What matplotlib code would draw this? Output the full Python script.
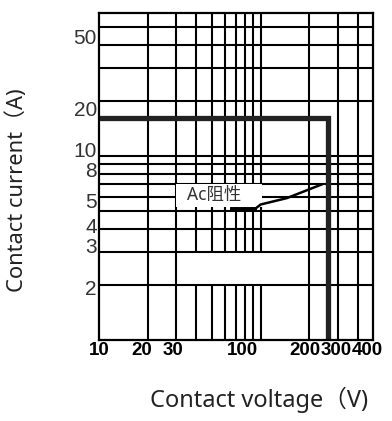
import numpy as np
import matplotlib.pyplot as plt
from matplotlib.transforms import ScaledTranslation

# valores
volt_ticks = [10, 20, 30, 100, 200, 300, 400]
volt_labels = ['10', '20', '30', '100', '200', '300', '400']
amp_ticks = [2, 3, 4, 5, 8, 10, 20, 50]
amp_labels = ['2', '3', '4', '5', '8', '10', '20', '50']

grid_v = [20, 30, 40, 50, 60, 70, 80, 90, 100, 200, 300, 400]
grid_i = [2, 3, 4, 5, 6, 7, 8, 9, 10, 20, 30, 40, 50]
# linhas verticais interrompidas entre 2 A e 3 A
gap_v = [40, 50, 60, 70, 80, 90, 100]
gap_i = [2, 3]

# limite de carga (linha grossa)
limit_v = [10, 260, 260]
limit_i = [16, 16, 1]

# curva Ac resistiva
ac_v = [66, 92, 100, 145, 238]
ac_i = [5.15, 5.15, 5.45, 5.9, 7.0]

v_min, v_max = 10, 492
i_min, i_max = 1, 60

# deslocamento dos rotulos (pixels), como na imagem original
xlab_dx = [0, -6, -3.5, -18, -4.5, -2, 9]
ylab_dy = [3, -7, -3.5, -11, -4, -6, 7.6, 9]

sans = ['Liberation Sans', 'DejaVu Sans']
cjk = ['Noto Sans', 'Noto Sans CJK SC', 'DejaVu Sans']

fig = plt.figure(figsize=(3.92, 4.21), dpi=100)
ax = fig.add_axes([99 / 392, 1 - 340 / 421, 273.7 / 392, 327.3 / 421])
ax.set_xscale('log')
ax.set_yscale('log')
ax.set_xlim(v_min, v_max)
ax.set_ylim(i_min, i_max)

# grade
for v in grid_v:
    if v in gap_v:
        ax.vlines(v, i_min, gap_i[0], color='black', lw=1.5, zorder=1)
        ax.vlines(v, gap_i[1], i_max, color='black', lw=1.5, zorder=1)
    else:
        ax.vlines(v, i_min, i_max, color='black', lw=1.5, zorder=1)
for i in grid_i:
    ax.hlines(i, v_min, v_max, color='black', lw=1.5, zorder=1)

# limite
ax.plot(limit_v, limit_i, color='#222222', lw=3.8, solid_joinstyle='miter', zorder=4)
ax.plot(ac_v, ac_i, color='black', lw=1.8, zorder=4)
ax.plot(ac_v[:2], ac_i[:2], color='black', lw=2.8, zorder=4)

ax.text(31, 6.1, '  Ac阻性    ', fontsize=12.5, family=cjk, color='#333333',
        ha='left', va='center', zorder=3,
        bbox=dict(facecolor='white', edgecolor='none', pad=1.5))

for s in ax.spines.values():
    s.set_linewidth(1.6)
    s.set_zorder(5)

ax.xaxis.set_minor_locator(plt.NullLocator())
ax.yaxis.set_minor_locator(plt.NullLocator())
ax.set_xticks(volt_ticks)
ax.set_xticklabels(volt_labels, family=sans, fontweight='bold', fontsize=13.5)
ax.set_yticks(amp_ticks)
ax.set_yticklabels(amp_labels, family=sans, fontsize=15, color='#333333')
ax.tick_params(length=0, pad=1.5)

for lbl, dx in zip(ax.get_xticklabels(), xlab_dx):
    lbl.set_transform(lbl.get_transform() + ScaledTranslation(dx / 100, 0, fig.dpi_scale_trans))
for lbl, dy in zip(ax.get_yticklabels(), ylab_dy):
    lbl.set_transform(lbl.get_transform() + ScaledTranslation(0, -dy / 100, fig.dpi_scale_trans))

fig.text(259 / 392, 1 - 406.7 / 421, 'Contact voltage（V)', family=cjk, fontsize=17,
         color='#222222', ha='center', va='baseline')
fig.text(17 / 392, 1 - 190 / 421, 'Contact current（A)', family=cjk, fontsize=15.8,
         color='#222222', ha='center', va='center', rotation=90)

fig.savefig('out.png', dpi=100)
